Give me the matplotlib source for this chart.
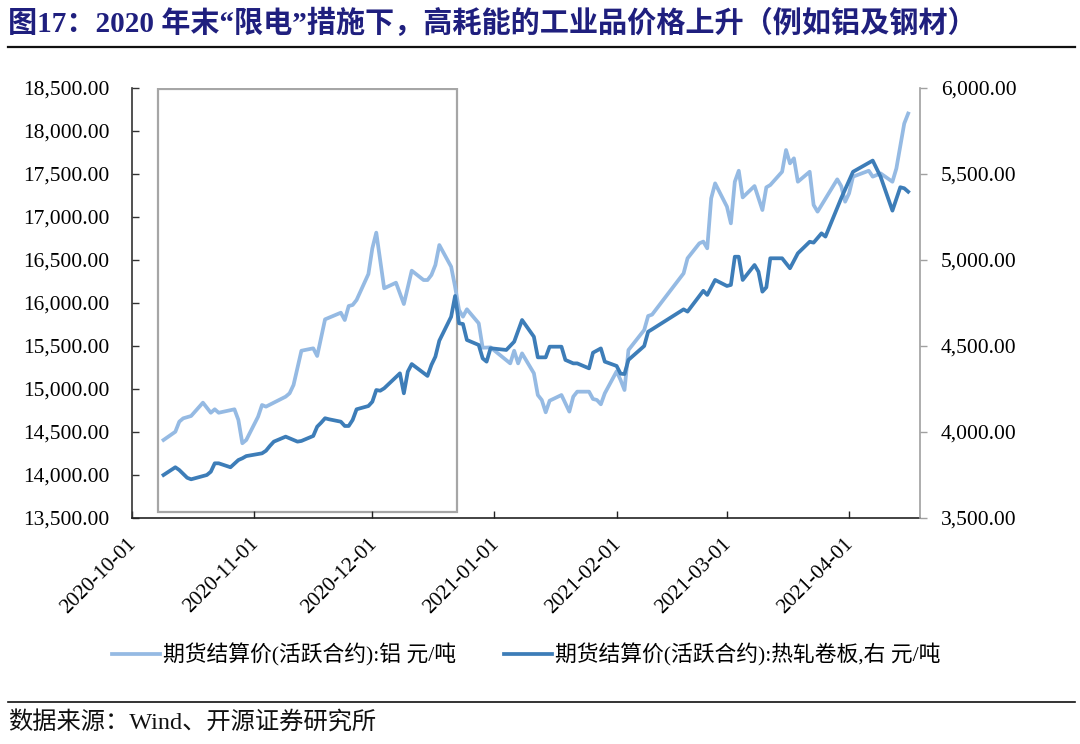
import numpy as np
import pandas as pd
import matplotlib
matplotlib.use("Agg")
import matplotlib.pyplot as plt
import matplotlib.dates as mdates
import matplotlib.transforms as mtransforms
from matplotlib.patches import Rectangle
from matplotlib.ticker import FuncFormatter, MultipleLocator

plt.rcParams['font.family'] = ['Liberation Serif', 'Noto Sans CJK SC']

# 期货结算价(活跃合约):铝 元/吨 (left axis)
al_dates = ['2020-10-09', '2020-10-12', '2020-10-13', '2020-10-14', '2020-10-16', '2020-10-19',
            '2020-10-21', '2020-10-22', '2020-10-23', '2020-10-27', '2020-10-28', '2020-10-29',
            '2020-10-30', '2020-11-02', '2020-11-03', '2020-11-04', '2020-11-09', '2020-11-10',
            '2020-11-11', '2020-11-13', '2020-11-16', '2020-11-17', '2020-11-19', '2020-11-23',
            '2020-11-24', '2020-11-25', '2020-11-26', '2020-11-27', '2020-11-30', '2020-12-01',
            '2020-12-02', '2020-12-04', '2020-12-07', '2020-12-09', '2020-12-11', '2020-12-14',
            '2020-12-15', '2020-12-16', '2020-12-17', '2020-12-18', '2020-12-21', '2020-12-22',
            '2020-12-23', '2020-12-24', '2020-12-25', '2020-12-28', '2020-12-29', '2020-12-31',
            '2021-01-05', '2021-01-06', '2021-01-07', '2021-01-08', '2021-01-11', '2021-01-12',
            '2021-01-13', '2021-01-14', '2021-01-15', '2021-01-18', '2021-01-20', '2021-01-21',
            '2021-01-22', '2021-01-25', '2021-01-26', '2021-01-27', '2021-01-28', '2021-01-29',
            '2021-02-01', '2021-02-02', '2021-02-03', '2021-02-04', '2021-02-08', '2021-02-09',
            '2021-02-10', '2021-02-18', '2021-02-19', '2021-02-22', '2021-02-23', '2021-02-24',
            '2021-02-25', '2021-02-26', '2021-03-01', '2021-03-02', '2021-03-03', '2021-03-04',
            '2021-03-05', '2021-03-08', '2021-03-10', '2021-03-11', '2021-03-12', '2021-03-15',
            '2021-03-16', '2021-03-17', '2021-03-18', '2021-03-19', '2021-03-22', '2021-03-23',
            '2021-03-24', '2021-03-29', '2021-03-30', '2021-03-31', '2021-04-01', '2021-04-02',
            '2021-04-06', '2021-04-07', '2021-04-09', '2021-04-12', '2021-04-13', '2021-04-15',
            '2021-04-16']
al_vals = [14407, 14503, 14620, 14659, 14686, 14841,
           14724, 14764, 14724, 14764, 14640, 14369,
           14407, 14678, 14814, 14795, 14911, 14950,
           15047, 15445, 15473, 15384, 15810, 15887,
           15802, 15965, 15977, 16035, 16337, 16636,
           16818, 16171, 16236, 15988, 16376, 16267,
           16267, 16326, 16442, 16674, 16422, 16190,
           15919, 15841, 15927, 15764, 15480, 15484,
           15298, 15445, 15298, 15414, 15183, 14930,
           14872, 14729, 14864, 14930, 14737, 14911,
           14969, 14969, 14884, 14872, 14822, 14950,
           15205, 15105, 14988, 15453, 15686, 15849,
           15865, 16345, 16520, 16694, 16714, 16636,
           17217, 17391, 17120, 16926, 17410, 17538,
           17228, 17360, 17081, 17345, 17372, 17526,
           17779, 17624, 17682, 17410, 17526, 17140,
           17062, 17438, 17360, 17178, 17275, 17469,
           17538, 17469, 17507, 17410, 17564, 18087,
           18203]

# 期货结算价(活跃合约):热轧卷板 元/吨 (right axis)
hrc_dates = ['2020-10-09', '2020-10-12', '2020-10-13', '2020-10-15', '2020-10-16', '2020-10-20',
             '2020-10-21', '2020-10-22', '2020-10-23', '2020-10-26', '2020-10-28', '2020-10-29',
             '2020-10-30', '2020-11-03', '2020-11-04', '2020-11-05', '2020-11-06', '2020-11-09',
             '2020-11-12', '2020-11-13', '2020-11-16', '2020-11-17', '2020-11-18', '2020-11-19',
             '2020-11-20', '2020-11-23', '2020-11-24', '2020-11-25', '2020-11-26', '2020-11-27',
             '2020-11-30', '2020-12-01', '2020-12-02', '2020-12-03', '2020-12-04', '2020-12-08',
             '2020-12-09', '2020-12-10', '2020-12-11', '2020-12-15', '2020-12-16', '2020-12-17',
             '2020-12-18', '2020-12-21', '2020-12-22', '2020-12-23', '2020-12-24', '2020-12-25',
             '2020-12-28', '2020-12-29', '2020-12-30', '2020-12-31', '2021-01-04', '2021-01-06',
             '2021-01-08', '2021-01-11', '2021-01-12', '2021-01-14', '2021-01-15', '2021-01-18',
             '2021-01-19', '2021-01-21', '2021-01-22', '2021-01-25', '2021-01-26', '2021-01-28',
             '2021-01-29', '2021-02-01', '2021-02-02', '2021-02-03', '2021-02-04', '2021-02-08',
             '2021-02-09', '2021-02-10', '2021-02-18', '2021-02-19', '2021-02-23', '2021-02-24',
             '2021-02-26', '2021-03-01', '2021-03-02', '2021-03-03', '2021-03-04', '2021-03-05',
             '2021-03-08', '2021-03-09', '2021-03-10', '2021-03-11', '2021-03-12', '2021-03-15',
             '2021-03-17', '2021-03-19', '2021-03-22', '2021-03-23', '2021-03-25', '2021-03-26',
             '2021-03-30', '2021-04-02', '2021-04-07', '2021-04-09', '2021-04-12', '2021-04-14',
             '2021-04-15', '2021-04-16']
hrc_vals = [3750, 3795, 3779, 3734, 3725, 3750,
            3769, 3818, 3818, 3795, 3837, 3847,
            3860, 3876, 3891, 3919, 3944, 3973,
            3944, 3948, 3977, 4031, 4054, 4080,
            4074, 4060, 4035, 4035, 4070, 4132,
            4151, 4176, 4244, 4240, 4254, 4341,
            4225, 4351, 4395, 4326, 4390, 4438,
            4531, 4670, 4791, 4632, 4628, 4535,
            4506, 4428, 4409, 4487, 4477, 4525,
            4651, 4554, 4434, 4434, 4496, 4496,
            4419, 4399, 4399, 4370, 4461, 4486,
            4409, 4384, 4339, 4337, 4419, 4500,
            4583, 4597, 4713, 4700, 4821, 4797,
            4884, 4849, 4855, 5019, 5019, 4884,
            4971, 4932, 4816, 4841, 5010, 5010,
            4952, 5039, 5106, 5101, 5155, 5136,
            5359, 5513, 5578, 5484, 5287, 5423,
            5417, 5397]

al_label = '期货结算价(活跃合约):铝 元/吨'
hrc_label = '期货结算价(活跃合约):热轧卷板,右 元/吨'
title = '图17：2020 年末“限电”措施下，高耗能的工业品价格上升（例如铝及钢材）'
source = '数据来源：Wind、开源证券研究所'

# highlighted period
box_start = '2020-10-07 14:00'
box_end = '2020-12-22 10:00'

al_x = pd.to_datetime(al_dates)
hrc_x = pd.to_datetime(hrc_dates)

light = '#95BAE3'
dark = '#3D7DB8'

fig = plt.figure(figsize=(10.8, 7.44), dpi=100)
ax = fig.add_axes([132 / 1080, 1 - 518 / 744, (920 - 132) / 1080, 430 / 744])
ax2 = ax.twinx()

l1, = ax.plot(al_x, al_vals, color=light, lw=2.7, solid_joinstyle='round')
l2, = ax2.plot(hrc_x, hrc_vals, color=dark, lw=2.7, solid_joinstyle='round')

ax.set_xlim(pd.Timestamp('2020-10-01'), pd.Timestamp('2021-04-19'))
ax.set_ylim(13500, 18500)
ax2.set_ylim(3500, 6000)
ax.yaxis.set_major_locator(MultipleLocator(500))
ax2.yaxis.set_major_locator(MultipleLocator(500))
fmt = FuncFormatter(lambda v, p: '{:,.2f}'.format(v))
ax.yaxis.set_major_formatter(fmt)
ax2.yaxis.set_major_formatter(fmt)

ax.xaxis.set_major_locator(mdates.MonthLocator())
ax.xaxis.set_major_formatter(mdates.DateFormatter('%Y-%m-%d'))

for s in ['top', 'right']:
    ax.spines[s].set_visible(False)
for s in ['top', 'left', 'bottom']:
    ax2.spines[s].set_visible(False)
ax.spines['left'].set_color('#333333')
ax.spines['bottom'].set_color('#222222')
ax.spines['left'].set_linewidth(1.2)
ax.spines['bottom'].set_linewidth(1.2)
ax2.spines['right'].set_color('#A0A0A0')
ax2.spines['right'].set_linewidth(1.2)

ax.tick_params(axis='y', direction='in', length=5, width=1, color='#333333',
               labelsize=15.5, pad=16)
ax.tick_params(axis='x', direction='in', length=5, width=1, color='#222222',
               labelsize=15.2, pad=9)
ax2.tick_params(axis='y', direction='out', length=5, width=1, color='#A0A0A0',
                labelsize=15.5, pad=10)
shift = mtransforms.ScaledTranslation(-0.05, -0.04, fig.dpi_scale_trans)
for lab in ax.get_xticklabels():
    lab.set_rotation(45)
    lab.set_ha('right')
    lab.set_va('top')
    lab.set_rotation_mode('anchor')
    lab.set_transform(lab.get_transform() + shift)

trans = mtransforms.blended_transform_factory(ax.transData, ax.transAxes)
x0 = mdates.date2num(pd.Timestamp(box_start))
x1 = mdates.date2num(pd.Timestamp(box_end))
ax.add_patch(Rectangle((x0, 0.014), x1 - x0, 0.984, transform=trans, fill=False,
                       edgecolor='#A6A6A6', lw=1.6, zorder=1))

fig.legend([l1, l2], [al_label, hrc_label], loc='center', bbox_to_anchor=(0.487, 1 - 655 / 744),
           ncol=2, frameon=False, fontsize=15.7, handlelength=2.2, handletextpad=0.15,
           columnspacing=2.2)

fig.text(8 / 1080, 1 - 23 / 744, title, fontsize=21, fontweight='bold', color='#1F1F7E',
         va='center', ha='left')
fig.add_artist(plt.Line2D([8 / 1080, 1075 / 1080], [1 - 47 / 744] * 2, color='#111111', lw=1.6))
fig.add_artist(plt.Line2D([8 / 1080, 1075 / 1080], [1 - 702 / 744] * 2, color='#111111', lw=1.2))
fig.text(8 / 1080, 1 - 723 / 744, source, fontsize=17.5, color='#111111', va='center', ha='left')

plt.savefig('out.png', dpi=100)
plt.close()
